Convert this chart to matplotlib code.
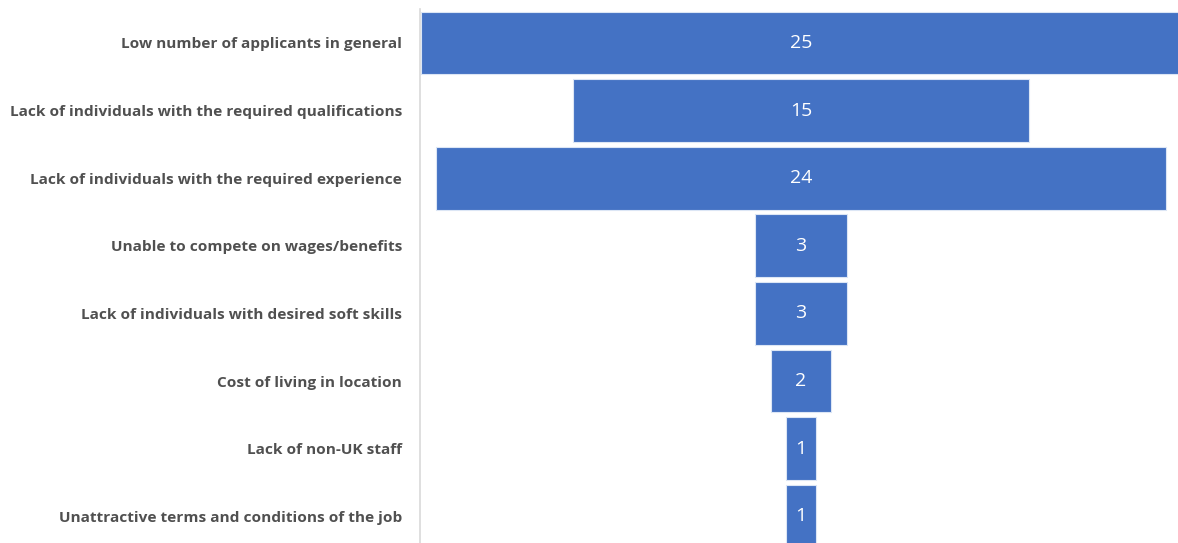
import matplotlib.pyplot as plt

categories = [
    "Low number of applicants in general",
    "Lack of individuals with the required qualifications",
    "Lack of individuals with the required experience",
    "Unable to compete on wages/benefits",
    "Lack of individuals with desired soft skills",
    "Cost of living in location",
    "Lack of non-UK staff",
    "Unattractive terms and conditions of the job",
]
counts = [25, 15, 24, 3, 3, 2, 1, 1]

fig = plt.figure(figsize=(11.78, 5.43), dpi=100)
ax = fig.add_axes([420 / 1178, 0, 758 / 1178, 1])

rows = list(range(len(categories)))
lefts = [-c / 2 for c in counts]
ax.barh(rows, counts, left=lefts, height=0.93, color="#4472C4",
        edgecolor="#dce6f5", linewidth=0.8)

for r, c in zip(rows, counts):
    ax.text(0, r, str(c), ha="center", va="center", color="white",
            fontsize=14, family="Open Sans")

ax.set_xlim(-12.53, 12.40)
ax.set_ylim(7.396, -0.636)
ax.set_yticks(rows)
ax.set_yticklabels(categories, fontsize=11.1, fontweight="bold",
                   color="#505050", family="Open Sans")
ax.tick_params(axis="y", length=0, pad=13)
ax.set_xticks([])
for s in ["top", "right", "bottom"]:
    ax.spines[s].set_visible(False)
ax.spines["left"].set_color("#d9d9d9")
ax.spines["left"].set_linewidth(1.2)
ax.spines["left"].set_bounds(7.396, -0.51)

fig.savefig("out.png", dpi=100)
